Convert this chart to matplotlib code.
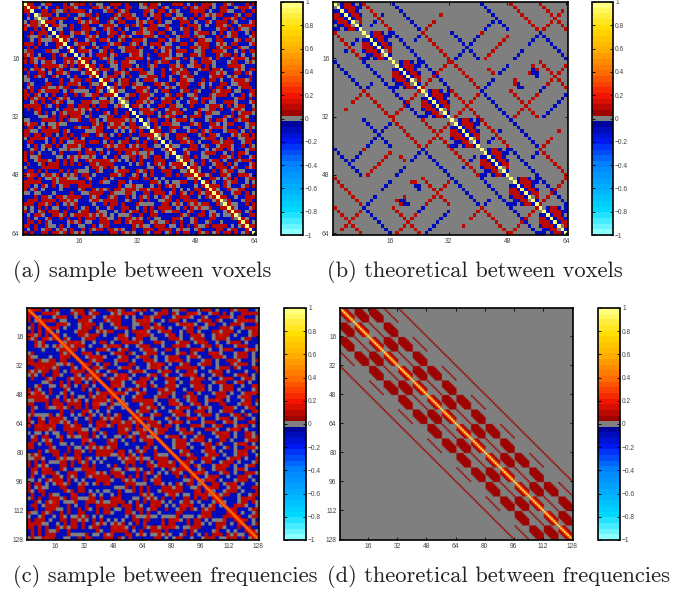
import numpy as np
import matplotlib
matplotlib.use("Agg")
import matplotlib.pyplot as plt
from matplotlib.colors import LinearSegmentedColormap, ListedColormap

# cell codes
codes = {".": 0.0, "r": 0.08, "R": 0.17, "b": -0.08, "B": -0.17}

# (a) upper triangle of the sample matrix, read along the rows
sample_voxels = [
    "rrbb.rRbbbrb.rrrbrb..bbrrrbrbbb.rbrr.bbbrrRb.brbrrr.bbr.rbbbr",
    "brrr.b.bbrbrrr.bbBbrr.r.brbbrrbb..rrrbr.bbbbrbr.rrrb.brrbb.rr",
    "r.bbbrrbr..rbrrRrb.bbb.rrbr.rbbbbrr.brrb.r.bbbrRrrb.bbrr..bbr",
    "bbr.rrrb.bbrbb..rrbrbbBbr.rrr.bbrb.rrbrrb..bbbrbr.r.rrbbbr.br",
    "rb..brrrrbb.rbbrr.bbbr.rbrRr.bb.brrbbb.rr.brbrrbb.bbrr.rbrbbb",
    "rrrb.bbBbr.r.rrbbr.brrbbb.r.rrbrb..bbrrrb.bbr.brrrbr.bbb.rbrr",
    "..brbbrrbbb.rrr.bbrbr.rbbrr..rbbbrbrrr.b.bbrr.rbb.rrRrb..bbrb",
    "brrr.bbr.rbrb.bbbr.rrrbbr.bb.rrbr.bbbb.rrbrbr..rbbrbb.rr.rbbr",
    "bb.rrbrbb.rr..rbrrbb.bbrrb.rrrb.brb.rrbb.brrrr.bbbr.r.bbrrbr.",
    "r.bbbrrr.bbrbb.rrrbr..bbbrbr.rrbbb.rr.brbb.rrbrr.bb.rbbrrr.bb",
    "brrb.r.bbbrbrr..brrbbb.rbrr.bb.rrrb.bbBr.rrbbr.rb.brrrb..bbrr",
    "bb.rrrbb.r.brrbbb.rrbr.bbr.brrbb..rrrbrbb.br.rrb.bbbrr.rrbbr.",
    "rrbbr..bbbrrr.bb.rbrbb.rrrr.bbbrb.r.brrrbb..rbbrrr.bb.brbrrb.",
    "b.brrrb.rbbb.rr.brbbrrr.b..bbrr.rbbbr.rrbrb.bb.rrrbbr.r.bbbrr",
    "rRrb.bbbr..rrbrb.bbrr.brbbb.rrr.brrb.bbbr.rbrr..bbbrbr.rrbb.b",
    "bb.rbrrr.bbb.rrbb.r.rrbrbb..brrrb.bbr.rbbbrr.rb..rrbrb.bbbrrr",
    "r.bbbr.rrrb.brb.rrrbb.bbrb.rr.rbbb.rrbrr.bbb.r.brrrb.bbrr.rbb",
    "brr..bbrbbr.rrrb.bbbrr.r.bbrrbr.bb.rrrb.brbb..rrrbrb.bbr.rrbb",
    "bb.rrrb.r.bbbrbrr.b.rrbb.brrr.bbb.rbrr..bbrbrrb.bb.rrr.rbbbr.",
    "rrbr..bbbrr.rbb.rrrbbr.b.bbrrb..rrrbb.rbrbb.rrr.bbrb.r.brrbbb",
    "b.brbrrb.bb.rrrbr..bbbrr.rb.brrbbb.rrbr.bbbr.rrrb..bbrrbb.rrb",
    "rrr.bbb.rbrrb..rbbbr.rrrb.bbrb.r.rbbbrr.brb.rrrb.bbr.brrr.bbb",
    "bb.rrbrb.bbrr.r.bbrrrb.bb.rrbrb..bbrrr.bbb.rbrr.b.bbrrbrr..bb",
    "rbbb.rrr.brb.rrbb.bbrrr.rbb.rrrb.bbbr..rrbrbb.rr.bbrb.rrrb.br",
    "r.rrbbb.rbrr..bbbrb.rrr.bbrbb.r.rrbb.brrrb..bbbr.rbrr.bbb.rrb",
    "brb.rrrb.bbb.rbrr.bbr.rrbb.brbrrr..bbbr.rbbrr.b.rrbbb.rrbr.bb",
    "rrrb..bbrbb.rrr.bbbrb.r.rrbbr.bbb.rrbr.rbbb.rrrb.brb.r.bbrrrb",
    "bb.rbrr.bbb.r.rrbrb.bbrr.rbbb.rrrb.brbb..rrrb.bbrr.rb.bbbrr.r",
    "rrbb.rrbr..bbbrrb.rbb.rrr.bbrbr.rbb.rrrbb.b.rrbr.bbb.rrbbr.bb",
    "b.rrrbb.brbrr.bb.rrbrb..bbbrr.rbrbb.rrr.bbrb.rrb.bbr.rrrbb.rb",
    "rbb.rrbrb.bbb.rrr.bb.brrrb.rbbr.rr.bbbrbr.rrb..bbbrr.rbbrr.bb",
    "rrr.bbbrr.b.rbrbb.rrrb.bbr.rrbb.b.rrrbr.bbb.rbrr.bbr..rrbbbr.",
    "bb.rrbrb.rrbb.bbrrr.rbbb.rrbr..bbrbrr.bbb.rrrb.rb.bbrrr.bbrb.",
    "rrbbb.rbrrb.r.bbbrr.bbrrb.rrrb.bb.rbrr.bbbr.rrb.rbbb.rrrbb.rr",
    "b.rrrbb.bbrr.rrbb.rbrbb.rrr.brbb.rrbr.bbb.rrbbr.rrb..bbbrrbr.",
]

# (c) same kind of reading, one code for every 2x2 group of cells
sample_freq = [
    "rrrb.bRrbbb.rrrbr.bbbrrr.rbb.RrRb.bbrrb..rrbbb.rrrb.bBbr.rrrb",
    "b.bbrrrR.bbbr.rrb.rrbbb.r.rrRrb.bbb.rrrbr.bbrrR.bb.rrbrb.bbrr",
    "rrr.bbb.rrRbb.brrr.bb.rRrrb.b.bbrr.rrbbb.rrrR.bbr.bbbrrr.brrb",
    "bb.rrRrb..bbbrrr.bbbr.rrrbbb.rrRr.bb.brrrb.bbb.rrrbr.bbb.rrRr",
    "r.bbbrrr.bb.rRrrb.bb.rrbbb..rrrbr.bbbb.rrRr.bb.rrbb.brrr.bbbr",
    "rrRb.bbb.rrrbr.bbb.rrrb.bbrr.rRrb.bbb.rrbr..bbbrrr.bb.rrrRb.b",
    "bbb.rrrbb.r.rrbbb.brrRr.bb.rrrbb.brrb.bbbrr.rrrb.bb.rrrb.bbbr",
    "r.rrrb.bbbrr.bbrrRr.bbb.rrb.bbrrr.bb.rRrrb.bbb.rrbr.bbb.rrrbb",
    "bbb.rrRb.rrbb..bbbrrr.bb.rrrbb.rrr.bbb.rrbb.rrRr.bb.brrb.bbrr",
    "rrr.bbbrr.bbb.rrrb.rRrbb.bb.rrrb.bbbr.rrrb.bbb.rrRrb.bb.rrrbb",
    "b.bbrRrr.bbb.rrbr.bbb.rrrbb.rrb.bbbrrr.bb.rrbbb.rrr.bbrrb.bbb",
    "rrRrb.bb.rrrbbb.rr.bbrrRb.bbb.rrrbr.bb.rrrb.bbb.rrbr.bbbrRr.b",
    "bb.rrrb.bbb.rRrr.bbb.rrbb.rrrb.bb.rrrbb.rr.bbbrrr.bb.rrrb.bbb",
    "r.rrbbb.rrrb.bbrrr.bb.rrRrb.bbb.rrb.bbrrr.bbb.rRrb.brrb.bbbrr",
    "bbb.rrRrb.bb.rrbb.rrrb.bbbr.rrrb.bbrr.rbbb.rrrb.bb.rrRb.bbrrr",
    "rrrb.bbb.rrrbr.bbbrRr.bb.rrbbb.rrr.bbb.rrrb.bbrr.bbb.rrrb.bbb",
    "b.bbrrr.bb.rRrb.bbb.rrbr.bbb.rrRrb.bb.rrbbb.rrrb.bbbr.rrRr.bb",
    "rrRb.bbrrr.bbb.rrrb.bb.rrrbb.rr.bbbrrr.bb.rrRb.bbb.rrb.bbrrrb",
    "bb.rrrbb.rrb.bbbrRr.bbb.rrbr.bbrrr.bbb.rrrb.bb.rrrbb.bbRrrb.b",
    "r.rrb.bbbrr.rrbb.bbrrRb.bb.rrrb.bbb.rRrr.bb.rrbbb.rrr.bbbrrb.",
    "bbb.rrrb.bb.rrRrb.bb.rrbbb.rrrb.bbr.rrbb.bbrrr.bb.rRrbb.bbrrr",
    "rrr.bbbrr.bb.rrbb.rrRrb.bbb.rrbr.bbb.rrrb.bbrRr.bb.rrb.bbbrrb",
    "bb.rRrb.bbbrr.rrb.bbb.rrrbb.rr.bbbrrr.bb.rrbb.rrrb.bbb.rRrb.b",
    "rrrb.bb.rrrbb.bbrRr.bb.rrbbb.rrr.bb.rrrb.bbb.rrbr.bbrrr.bbb.r",
    "b.bbrrRb.bbb.rrrb.rrbb.bbrrr.bb.rRrb.bbb.rrrbb.rr.bbbrrb.rrrb",
    "rrb.bbbrrr.bb.rrbbb.rRrb.bb.rrrbb.rrb.bbbrrr.bb.rRrb.bbb.rrbb",
    "bb.rrrb.bbb.rrRrb.bbrr.bbb.rrrb.bb.rrbbb.rrrb.bbrr.rbbb.rrrb.",
    "rRrb.bbrrb.bbb.rrrbb.rrr.bbb.rrbr.bbb.rRrb.bb.rrrb.bbbrr.bb.r",
    "b.bbrrr.bb.rrbbb.rrRb.bbb.rrrb.bbrr.rbbb.rrrb.bb.rrRbb.bbrrrb",
    "rrr.bbb.rrRb.bbrrr.bb.rrbb.rrrb.bbb.rrbr.bbb.rrRrb.bb.rrbbb.r",
    "bb.rrrbb.rr.bbbrRr.bbb.rrb.bbrrr.bb.rrrbb.bbrrr.bb.rRrb.bbb.r",
    "rrb.bbbrrb.rrRb.bbb.rrrbb.rr.bbbrr.bb.rrrb.bbbrr.rrbb.bb.rrrb",
    "bbb.rrRrb.bbb.rrbr.bbrRr.bb.rrbbb.rrrb.bb.rrbb.rrRrb.bbb.rrbb",
    "r.rrrb.bb.rrrbb.bbrr.rbbb.rrRb.bbb.rrrb.bbrr.rbb.rrrb.bb.rrbb",
    "bb.rrRb.bbb.rrrb.bbrrr.bb.rrbbb.rRrr.bb.rrbbb.rrrb.bbbrr.bb.r",
]

# (b) one 8x8 block on the diagonal
theory_block = [
    "Y.brrb.b",
    ".Ybrrrbb",
    "bbYbrrb.",
    "rrbYbrrb",
    "rrrbYbrr",
    "brrrbY.r",
    ".bbrr.Yb",
    "bb.brrbY",
]

# (b) off-block cells as runs: row, col, count, col step (1-based, upper triangle)
red_near = [(1, 9, 8, 1), (6, 28, 4, -1), (4, 30, 1, -1), (9, 25, 8, 1), (17, 32, 8, -1)]
blue_near = [(1, 17, 8, 1), (10, 24, 2, -1), (4, 14, 1, -1), (6, 12, 2, -1), (9, 17, 8, 1), (17, 25, 8, 1)]
blue_far = [(1, 41, 8, 1), (6, 44, 3, -1), (10, 40, 7, -1), (9, 33, 8, 1), (9, 57, 4, -1),
            (14, 52, 3, -1), (18, 48, 3, -1), (10, 58, 7, 1), (22, 44, 3, -1), (25, 41, 8, 1),
            (26, 64, 7, -1), (24, 58, 2, -1), (19, 55, 2, 1), (20, 55, 2, 1), (23, 51, 2, 1), (24, 51, 1, 1)]
red_far = [(1, 49, 8, 1), (10, 48, 7, -1), (1, 57, 8, 1), (3, 63, 6, -1), (19, 43, 2, 1),
           (17, 33, 8, 1), (26, 40, 7, -1), (25, 33, 8, 1), (25, 49, 8, 1), (26, 56, 7, -1),
           (17, 57, 8, 1), (18, 64, 7, -1), (9, 41, 1, 1), (18, 55, 2, 1), (20, 54, 1, 1),
           (22, 50, 2, 1), (23, 50, 1, 1)]

# (d) which 8x8 blocks hold a band, counted from the diagonal block
thick_odd = [1, 2]
thick_even = [2]
thin_odd = [3]
thin_even = [1]
thin_all = [4]
band_red = 0.06
diag_values = [0.95, 0.3, 0.1, 0.06]

ticks_64 = [16, 32, 48, 64]
ticks_128 = [16, 32, 48, 64, 80, 96, 112, 128]
cbar_ticks = [-1, -0.8, -0.6, -0.4, -0.2, 0, 0.2, 0.4, 0.6, 0.8, 1]
cbar_labels = ["\u22121", "\u22120.8", "\u22120.6", "\u22120.4", "\u22120.2", "0", "0.2", "0.4", "0.6", "0.8", "1"]

captions = ["(a) sample between voxels", "(b) theoretical between voxels",
            "(c) sample between frequencies", "(d) theoretical between frequencies"]


def from_triangle(rows, n):
    s = "".join(rows)
    iu = np.triu_indices(n, 1)
    s = (s * 2)[:len(iu[0])]
    m = np.zeros((n, n))
    m[iu] = [codes[ch] for ch in s]
    return m + m.T


def put_runs(m, runs, val):
    for row, col, count, step in runs:
        for k in range(count):
            m[row - 1 + k, col - 1 + step * k] = val
            m[col - 1 + step * k, row - 1 + k] = val


mat_a = from_triangle(sample_voxels, 64)
np.fill_diagonal(mat_a, 1.0)

mat_b = np.zeros((64, 64))
put_runs(mat_b, red_near, codes["r"])
put_runs(mat_b, blue_near, codes["b"])
mat_b[32:, 32:] = mat_b[:32, :32]
put_runs(mat_b, red_far, codes["r"])
put_runs(mat_b, blue_far, codes["b"])
for s in range(0, 64, 8):
    for i, row in enumerate(theory_block):
        for j, ch in enumerate(row):
            mat_b[s + i, s + j] = 1.0 if ch == "Y" else codes[ch]

mat_c = np.kron(from_triangle(sample_freq, 64), np.ones((2, 2)))
np.fill_diagonal(mat_c, 0.5)
for i in range(127):
    mat_c[i, i + 1] = mat_c[i + 1, i] = 0.25

mat_d = np.zeros((128, 128))
for bi in range(16):
    odd = bi % 2 == 0
    # band blocks
    for off in (thick_odd if odd else thick_even):
        if bi + off < 16:
            for i in range(8):
                for j in range(8):
                    if abs(i - j) <= 3:
                        mat_d[bi * 8 + i, (bi + off) * 8 + j] = band_red
    for off in (thin_odd if odd else thin_even) + thin_all:
        if bi + off < 16:
            for i in range(8):
                mat_d[bi * 8 + i, (bi + off) * 8 + i] = band_red
    for i in range(8):
        for j in range(8):
            d = abs(i - j)
            if d < len(diag_values):
                mat_d[bi * 8 + i, bi * 8 + j] = diag_values[d]
mat_d = np.maximum(mat_d, mat_d.T)

# colormap: pale cyan - blue - dark blue | grey | dark red - red - orange - pale yellow
anchors = [(0.0, (0.55, 1.0, 1.0)), (0.1, (0.0, 0.85, 1.0)), (0.3, (0.0, 0.5, 1.0)),
           (0.4, (0.0, 0.1, 0.95)), (0.49, (0.0, 0.0, 0.55)), (0.51, (0.55, 0.0, 0.0)),
           (0.6, (0.95, 0.08, 0.0)), (0.7, (1.0, 0.42, 0.0)), (0.8, (1.0, 0.68, 0.0)),
           (0.9, (1.0, 0.87, 0.0)), (1.0, (1.0, 1.0, 0.5))]
base = LinearSegmentedColormap.from_list("corr", anchors, N=41)
colors = base(np.arange(41))
colors[20] = (0.5, 0.5, 0.5, 1)
cmap = ListedColormap(colors)

W, H = 695, 593
fig = plt.figure(figsize=(W / 100, H / 100), dpi=100)
plt.rcParams["font.family"] = "Liberation Sans"


def px_axes(x0, y0, x1, y1):
    return fig.add_axes([x0 / W, 1 - y1 / H, (x1 - x0) / W, (y1 - y0) / H])


panels = [
    (mat_a, ticks_64, (23, 2, 256, 235), (281, 2, 303, 235), "nearest"),
    (mat_b, ticks_64, (333, 2, 568, 235), (592, 2, 613, 235), "nearest"),
    (mat_c, ticks_128, (27, 308, 259, 540), (284, 308, 306, 540), "hanning"),
    (mat_d, ticks_128, (340, 308, 573, 540), (598, 308, 620, 540), "hanning"),
]
for mat, ticks, box, cbox, interp in panels:
    ax = px_axes(*box)
    im = ax.imshow(mat, cmap=cmap, vmin=-1, vmax=1, aspect="auto", interpolation=interp,
                   interpolation_stage="rgba")
    ax.set_xticks([t - 1 for t in ticks])
    ax.set_xticklabels(ticks)
    ax.set_yticks([t - 1 for t in ticks])
    ax.set_yticklabels(ticks)
    ax.tick_params(direction="in", length=2, width=0.6, labelsize=4.8, labelcolor="#444444",
                   pad=2.5, top=True, right=True)
    for s in ax.spines.values():
        s.set_linewidth(1.2)

    cax = px_axes(*cbox)
    cb = fig.colorbar(im, cax=cax)
    cb.set_ticks(cbar_ticks)
    cb.set_ticklabels(cbar_labels)
    cax.tick_params(direction="in", length=2, width=0.6, labelsize=4.8, labelcolor="#444444",
                    pad=1.5, left=True, right=True)
    cb.outline.set_linewidth(1.2)

cap_pos = [(13, 277), (327, 277), (13, 582), (327, 582)]
for txt, (x, y) in zip(captions, cap_pos):
    fig.text(x / W, 1 - y / H, txt, family="cmr10", fontsize=16.2, color="#222222", va="baseline")

fig.savefig("out.png", dpi=100)
